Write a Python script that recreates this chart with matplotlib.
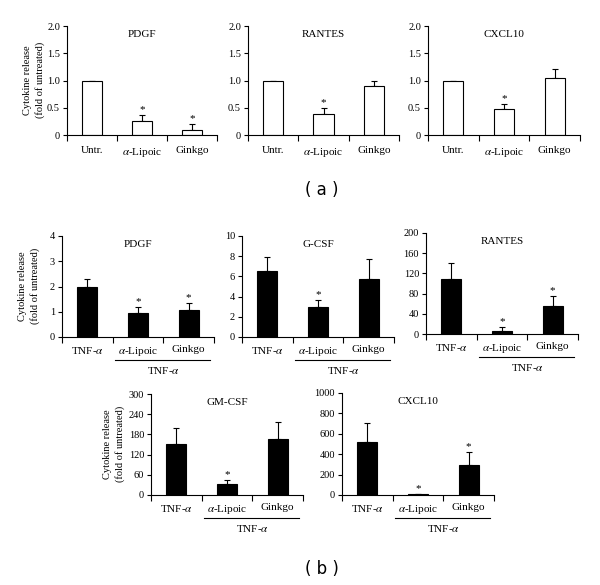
import matplotlib
matplotlib.use("Agg")
import matplotlib.pyplot as plt
import matplotlib.transforms as mtransforms

plt.rcParams['font.family'] = ['Liberation Serif', 'DejaVu Serif']
plt.rcParams['mathtext.fontset'] = 'stix'

ALPHA = r'$\alpha$'

# panel (a): fold of untreated, white bars
top_cats = ['Untr.', ALPHA + '-Lipoic', 'Ginkgo']
top_titles = ['PDGF', 'RANTES', 'CXCL10']
top_vals = [[1.0, 0.25, 0.10],
            [1.0, 0.38, 0.90],
            [1.0, 0.47, 1.05]]
top_errs = [[0, 0.12, 0.10],
            [0, 0.12, 0.10],
            [0, 0.10, 0.16]]
top_stars = [[False, True, True],
             [False, True, False],
             [False, True, False]]

# panel (b): TNF-alpha stimulated, black bars
bot_cats = ['TNF-' + ALPHA, ALPHA + '-Lipoic', 'Ginkgo']
bot_titles = ['PDGF', 'G-CSF', 'RANTES', 'GM-CSF', 'CXCL10']
bot_vals = [[2.0, 0.97, 1.08],
            [6.5, 2.95, 5.75],
            [109, 6.5, 55],
            [151, 32, 165],
            [522, 5, 291]]
bot_errs = [[0.29, 0.21, 0.26],
            [1.4, 0.72, 1.95],
            [31, 8, 21],
            [49, 12, 52],
            [187, 4, 128]]
bot_stars = [[False, True, True],
             [False, True, False],
             [False, True, True],
             [False, True, False],
             [False, True, True]]
bot_yticks = [[0, 1, 2, 3, 4],
              [0, 2, 4, 6, 8, 10],
              [0, 40, 80, 120, 160, 200],
              [0, 60, 120, 180, 240, 300],
              [0, 200, 400, 600, 800, 1000]]

W, H = 600, 585
fig = plt.figure(figsize=(W / 100, H / 100), dpi=100)


def px_axes(left, top, right, bottom):
    return fig.add_axes([left / W, 1 - bottom / H, (right - left) / W, (bottom - top) / H])


def draw(ax, cats, vals, errs, stars, yticks, title, color, fmt):
    x = list(range(len(vals)))
    low = [0] * len(errs)
    ax.bar(x, vals, width=0.4, color=color, edgecolor='black', linewidth=0.8, zorder=2)
    ax.errorbar(x, vals, yerr=[low, errs], fmt='none', ecolor='black',
                elinewidth=0.8, capsize=2.2, capthick=0.8, zorder=1)
    for xi, v, e, s in zip(x, vals, errs, stars):
        if s:
            ax.annotate('*', (xi, v + e), xytext=(0, 0.5), textcoords='offset points',
                        ha='center', va='bottom', fontsize=8)
    ax.set_xlim(-0.5, 2.5)
    ax.set_ylim(yticks[0], yticks[-1])
    ax.set_yticks(yticks)
    ax.set_yticklabels([fmt(t) for t in yticks], fontsize=7.5)
    ax.set_xticks(x)
    ax.set_xticklabels(cats, fontsize=8)
    ax.set_xticks([-0.5, 0.5, 1.5, 2.5], minor=True)
    ax.tick_params(axis='x', which='major', length=0, pad=6)
    ax.tick_params(axis='x', which='minor', length=4, width=0.8, direction='out')
    ax.tick_params(axis='y', length=3, width=0.8, direction='out', pad=2)
    for s in ['top', 'right']:
        ax.spines[s].set_visible(False)
    for s in ['left', 'bottom']:
        ax.spines[s].set_linewidth(0.8)
    ax.text(0.5, 0.92, title, transform=ax.transAxes, ha='center', va='center', fontsize=8)


def bracket(ax, yline, ytext):
    tr = mtransforms.blended_transform_factory(ax.transData, ax.transAxes)
    ax.plot([0.55, 2.42], [yline, yline], color='black', lw=0.8, transform=tr, clip_on=False)
    ax.text(1.5, ytext, 'TNF-' + ALPHA, transform=tr, ha='center', va='center', fontsize=8)


def ylab(xpx, ypx):
    fig.text(xpx / W, 1 - ypx / H, 'Cytokine release\n(fold of untreated)', rotation=90,
             ha='center', va='center', fontsize=7.5, linespacing=1.3)


# row 1
top_boxes = [(67, 26, 217, 135), (248, 26, 399, 135), (428, 26, 580, 135)]
for i, box in enumerate(top_boxes):
    ax = px_axes(*box)
    draw(ax, top_cats, top_vals[i], top_errs[i], top_stars[i], [0, 0.5, 1.0, 1.5, 2.0],
         top_titles[i], 'white', lambda t: '0' if t == 0 else f'{t:.1f}')
    ax.tick_params(axis='x', which='major', pad=8)
ylab(34, 80)

# rows 2 and 3
bot_boxes = [(62, 236, 214, 337), (242, 236, 394, 337), (426, 233, 578, 334),
             (151, 394, 303, 495), (342, 393, 494, 495)]
for i, box in enumerate(bot_boxes):
    ax = px_axes(*box)
    draw(ax, bot_cats, bot_vals[i], bot_errs[i], bot_stars[i], bot_yticks[i],
         bot_titles[i], 'black', lambda t: f'{t:g}')
    bracket(ax, -0.225, -0.33)
ylab(29, 286)
ylab(114, 444)

fig.text(322 / W, 1 - 190 / H, '( a )', ha='center', va='center', fontsize=12,
         family=['DejaVu Sans'])
fig.text(322 / W, 1 - 569 / H, '( b )', ha='center', va='center', fontsize=12,
         family=['DejaVu Sans'])

fig.savefig('out.png', dpi=100)
